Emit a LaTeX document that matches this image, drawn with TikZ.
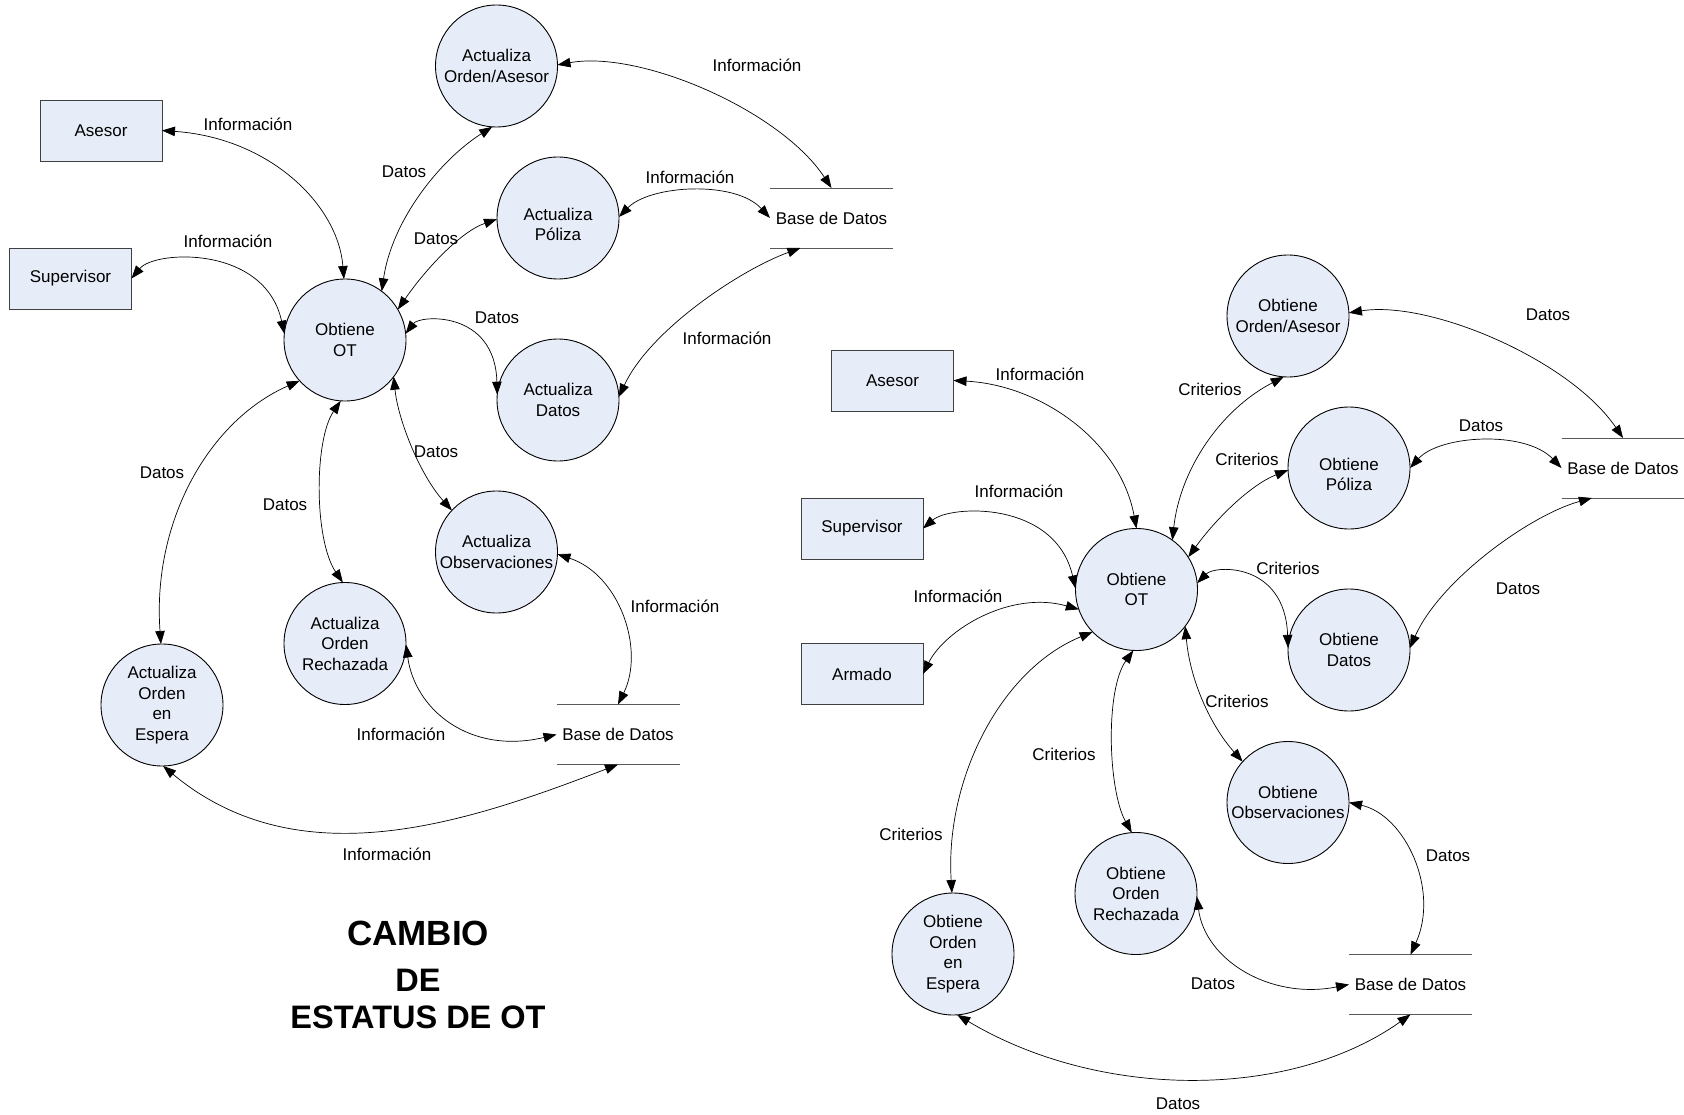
\documentclass[tikz,border=0pt]{standalone}
\usepackage{fontspec}
\setmainfont{Liberation Sans}
\usetikzlibrary{arrows.meta}
\definecolor{procfill}{RGB}{231,237,248}
\begin{document}
\begin{tikzpicture}[x=1pt,y=-1pt,
  every node/.style={font=\fontsize{17}{20.5}\selectfont},
  proc/.style={circle,draw=black,line width=0.9pt,fill=procfill,minimum size=122pt,inner sep=0pt,outer sep=0pt,align=center},
  ent/.style={rectangle,draw=black!75,line width=0.9pt,fill=procfill,minimum width=122pt,minimum height=61pt,inner sep=0pt,outer sep=0pt},
  store/.style={rectangle,minimum width=123pt,minimum height=60pt,inner sep=0pt,outer sep=0pt},
  storeline/.style={draw=black!65,line width=0.9pt},
  flow/.style={line width=0.7pt,{Triangle[length=13pt,width=9.5pt]}-{Triangle[length=13pt,width=9.5pt]}},
  lbl/.style={inner sep=0pt},
  ttl/.style={inner sep=0pt,font=\bfseries\fontsize{32.5}{38}\selectfont}
]
\useasboundingbox (0,0) rectangle (1684,1115);

% ---------- left diagram ----------
\node[ent] (asesorL) at (101,130.5) {Asesor};
\node[ent] (supL) at (70.5,278.5) {Supervisor};
\node[proc] (otL) at (345,340) {Obtiene\\OT};
\node[proc] (aoaL) at (496.5,66) {Actualiza\\Orden/Asesor};
\node[proc] (apolL) at (558,218) {\rule{0pt}{25pt}Actualiza\\Póliza};
\node[proc] (adatL) at (558,400) {Actualiza\\Datos};
\node[proc] (aobsL) at (496.5,552) {Actualiza\\Observaciones};
\node[proc] (arechL) at (345,643.5) {Actualiza\\Orden\\Rechazada};
\node[proc] (aespL) at (162,705) {Actualiza\\Orden\\en\\Espera};
\node[store] (bdL1) at (831.5,218) {Base de Datos};
\node[store] (bdL2) at (618,734.5) {Base de Datos};
\draw[storeline] (bdL1.north west) -- (bdL1.north east);
\draw[storeline] (bdL1.south west) -- (bdL1.south east);
\draw[storeline] (bdL2.north west) -- (bdL2.north east);
\draw[storeline] (bdL2.south west) -- (bdL2.south east);

\draw[flow] (asesorL.east) .. controls (270,138) and (338,205) .. (otL.91);
\draw[flow] (supL.east) .. controls (155,250) and (265,245) .. (otL.174);
\draw[flow] (otL.53) .. controls (392,220) and (440,160) .. (aoaL.-94);
\draw[flow] (otL.30) .. controls (425,270) and (460,232) .. (apolL.181);
\draw[flow] (otL.6) .. controls (420,315) and (495,310) .. (adatL.175);
\draw[flow] (aoaL.1) .. controls (640,50) and (780,110) .. (bdL1.north);
\draw[flow] (apolL.1) .. controls (650,185) and (735,180) .. (bdL1.west);
\draw[flow] (bdL1.-136) .. controls (740,270) and (650,330) .. (adatL.3);
\draw[flow] (otL.-37) .. controls (398,420) and (420,475) .. (aobsL.137);
\draw[flow] (aobsL.-2) .. controls (620,575) and (645,650) .. (bdL2.north);
\draw[flow] (otL.-94) .. controls (314,440) and (314,540) .. (arechL.92);
\draw[flow] (otL.222) .. controls (210,420) and (152,520) .. (aespL.91);
\draw[flow] (arechL.-1) .. controls (415,710) and (470,755) .. (bdL2.west);
\draw[flow] (aespL.-89) .. controls (300,880) and (468,822) .. (bdL2.south);

\node[lbl] (la1) at (248,124) {Información};
\node[lbl] (la2) at (228,241) {Información};
\node[lbl] (la3) at (404,172) {Datos};
\node[lbl] (la4) at (436,239) {Datos};
\node[lbl] (la5) at (497,318) {Datos};
\node[lbl] (la6) at (757,65) {Información};
\node[lbl] (la7) at (690,177) {Información};
\node[lbl] (la8) at (727,338) {Información};
\node[lbl] (la9) at (436,452) {Datos};
\node[lbl] (la10) at (675,606) {Información};
\node[lbl] (la11) at (285,505) {Datos};
\node[lbl] (la12) at (162,473) {Datos};
\node[lbl] (la13) at (401,734) {Información};
\node[lbl] (la14) at (387,854) {Información};

\node[ttl,font=\bfseries\fontsize{35}{40}\selectfont] (t1) at (418,933) {CAMBIO};
\node[ttl] (t2) at (418,980) {DE};
\node[ttl] (t3) at (418,1017) {ESTATUS DE OT};

% ---------- right diagram ----------
\node[ent] (asesorR) at (892.5,380.5) {Asesor};
\node[ent] (supR) at (862,528.5) {Supervisor};
\node[ent] (armR) at (862,674) {Armado};
\node[proc] (otR) at (1136.5,589.5) {Obtiene\\OT};
\node[proc] (ooaR) at (1288,316) {Obtiene\\Orden/Asesor};
\node[proc] (opolR) at (1349,468) {\rule{0pt}{25pt}Obtiene\\Póliza};
\node[proc] (odatR) at (1349,650) {Obtiene\\Datos};
\node[proc] (oobsR) at (1288,802.5) {Obtiene\\Observaciones};
\node[proc] (orechR) at (1136,893.5) {Obtiene\\Orden\\Rechazada};
\node[proc] (oespR) at (953,954) {Obtiene\\Orden\\en\\Espera};
\node[store] (bdR1) at (1623,468) {Base de Datos};
\node[store] (bdR2) at (1410.5,984.5) {Base de Datos};
\draw[storeline] (bdR1.north west) -- (bdR1.north east);
\draw[storeline] (bdR1.south west) -- (bdR1.south east);
\draw[storeline] (bdR2.north west) -- (bdR2.north east);
\draw[storeline] (bdR2.south west) -- (bdR2.south east);

\draw[flow] (asesorR.east) .. controls (1040,385) and (1120,440) .. (otR.90);
\draw[flow] (supR.east) .. controls (950,505) and (1055,500) .. (otR.179);
\draw[flow] (armR.east) .. controls (945,630) and (1010,590) .. (otR.199);
\draw[flow] (otR.54) .. controls (1180,470) and (1220,410) .. (ooaR.-94);
\draw[flow] (otR.32) .. controls (1215,520) and (1250,485) .. (opolR.182);
\draw[flow] (otR.6) .. controls (1215,565) and (1285,562) .. (odatR.178);
\draw[flow] (ooaR.3) .. controls (1430,300) and (1570,360) .. (bdR1.north);
\draw[flow] (opolR.0) .. controls (1440,435) and (1525,430) .. (bdR1.west);
\draw[flow] (bdR1.-136) .. controls (1530,515) and (1440,580) .. (odatR.2);
\draw[flow] (otR.-37) .. controls (1190,680) and (1210,725) .. (oobsR.138);
\draw[flow] (otR.-93) .. controls (1105,690) and (1108,790) .. (orechR.94);
\draw[flow] (otR.224) .. controls (1000,670) and (945,780) .. (oespR.91);
\draw[flow] (oobsR.0) .. controls (1405,815) and (1440,890) .. (bdR2.north);
\draw[flow] (orechR.-3) .. controls (1205,960) and (1270,1000) .. (bdR2.west);
\draw[flow] (oespR.-86) .. controls (1100,1100) and (1290,1100) .. (bdR2.south);

\node[lbl] (lb1) at (1040,374) {Información};
\node[lbl] (lb2) at (1019,491) {Información};
\node[lbl] (lb3) at (958,596) {Información};
\node[lbl] (lb4) at (1210,389) {Criterios};
\node[lbl] (lb5) at (1247,459) {Criterios};
\node[lbl] (lb6) at (1288,568) {Criterios};
\node[lbl] (lb7) at (1548,315) {Datos};
\node[lbl] (lb8) at (1481,426) {Datos};
\node[lbl] (lb9) at (1518,589) {Datos};
\node[lbl] (lb10) at (1237,701) {Criterios};
\node[lbl] (lb11) at (1064,754) {Criterios};
\node[lbl] (lb12) at (911,834) {Criterios};
\node[lbl] (lb13) at (1448,856) {Datos};
\node[lbl] (lb14) at (1213,984) {Datos};
\node[lbl] (lb15) at (1178,1104) {Datos};
\end{tikzpicture}
\end{document}
